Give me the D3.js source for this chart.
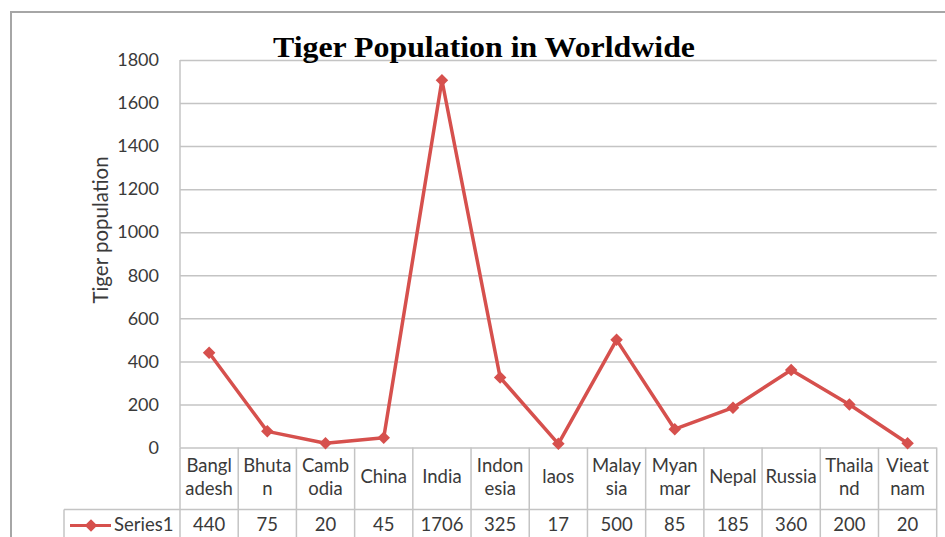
<!DOCTYPE html>
<html><head><meta charset="utf-8">
<script src="https://cdn.jsdelivr.net/npm/d3@7"></script>
<style>html,body{margin:0;padding:0;background:#fff;}svg{display:block;}</style>
</head><body>
<svg id="c" width="945" height="537"></svg>
<script>
const categories = ["Bangladesh","Bhutan","Cambodia","China","India","Indonesia","laos","Malaysia","Myanmar","Nepal","Russia","Thailand","Vieatnam"];
const categoryLines = [["Bangl","adesh"],["Bhuta","n"],["Camb","odia"],["China"],["India"],["Indon","esia"],["laos"],["Malay","sia"],["Myan","mar"],["Nepal"],["Russia"],["Thaila","nd"],["Vieat","nam"]];
const series1 = [440,75,20,45,1706,325,17,500,85,185,360,200,20];
const seriesName = "Series1";
const yTicks = [0,200,400,600,800,1000,1200,1400,1600,1800];
const title = "Tiger Population in Worldwide";
const yTitle = "Tiger population";

const svg = d3.select("#c");
const W = 945, H = 537;
const pLeft = 180, pRight = 936.7, pTop = 60, pBottom = 447.5;
const rowSplit = 509.5;
const color = "#d6504d";
const gridColor = "#c4c4c4";
const textColor = "#3a3a3a";
const font = "Lato, 'Open Sans', sans-serif";
const fs = 18.5;

const x = d3.scaleBand().domain(categories).range([pLeft, pRight]).padding(0);
const y = d3.scaleLinear().domain([0, 1800]).range([pBottom, pTop]);

// outer border
svg.append("path").attr("d", `M11,${H+5}V12H${W+5}`).attr("fill","none").attr("stroke","#a6a6a6").attr("stroke-width",2);

// gridlines
const grid = svg.append("g").attr("transform", `translate(${pLeft},0)`)
  .call(d3.axisLeft(y).tickValues(yTicks).tickSize(-(pRight-pLeft)).tickFormat(""));
grid.select(".domain").remove();
grid.selectAll("line").attr("stroke", gridColor).attr("stroke-width", 1.5);

// y axis labels
const ya = svg.append("g").attr("transform", `translate(${pLeft},0)`)
  .call(d3.axisLeft(y).tickValues(yTicks).tickSize(0).tickPadding(21).tickFormat(d3.format("d")));
ya.select(".domain").remove();
ya.selectAll("text").attr("font-family", font).attr("font-size", 18).attr("fill", textColor);

// left plot edge
svg.append("line").attr("x1",pLeft).attr("x2",pLeft).attr("y1",pTop).attr("y2",pBottom).attr("stroke",gridColor).attr("stroke-width",1.5);

// data table
const tbl = svg.append("g");
const cats = x.domain();
[...cats.map(c => x(c)), pRight].forEach(px => {
  tbl.append("line").attr("x1",px).attr("x2",px).attr("y1",pBottom).attr("y2",H+2).attr("stroke",gridColor).attr("stroke-width",1.5);
});
tbl.append("line").attr("x1",64).attr("x2",pRight).attr("y1",rowSplit).attr("y2",rowSplit).attr("stroke",gridColor).attr("stroke-width",1.5);
tbl.append("line").attr("x1",64).attr("x2",64).attr("y1",rowSplit).attr("y2",H+2).attr("stroke",gridColor).attr("stroke-width",1.5);

// category labels
cats.forEach((c, i) => {
  const lines = categoryLines[i];
  const cx = x(c) + x.bandwidth()/2;
  const t = tbl.append("text").attr("x", cx).attr("text-anchor","middle")
    .attr("font-family", font).attr("font-size", fs).attr("fill", textColor);
  if (lines.length === 1) {
    t.append("tspan").attr("x", cx).attr("y", 478.5).attr("dominant-baseline","middle").text(lines[0]);
  } else {
    lines.forEach((l, j) => t.append("tspan").attr("x", cx).attr("y", 467 + j*23).attr("dominant-baseline","middle").text(l));
  }
});
// values row
series1.forEach((v, i) => {
  tbl.append("text").attr("x", x(cats[i]) + x.bandwidth()/2).attr("y", 526.5)
    .attr("text-anchor","middle").attr("dominant-baseline","middle")
    .attr("font-family", font).attr("font-size", fs).attr("fill", textColor).text(v);
});
// legend key
const diamond = d3.symbol().type(d3.symbolDiamond2).size(100);
tbl.append("line").attr("x1",70).attr("x2",111).attr("y1",525.5).attr("y2",525.5).attr("stroke",color).attr("stroke-width",3.2);
tbl.append("path").attr("d", diamond).attr("transform","translate(91,525.5)").attr("fill",color);
tbl.append("text").attr("x",114).attr("y",526).attr("dominant-baseline","middle")
  .attr("font-family", font).attr("font-size", fs).attr("fill", textColor).text(seriesName);

// line
const line = d3.line().x((d,i) => x(cats[i]) + x.bandwidth()/2).y(d => y(d));
svg.append("path").datum(series1).attr("d", line).attr("fill","none").attr("stroke",color).attr("stroke-width",3.5).attr("stroke-linejoin","round");
svg.selectAll(".mk").data(series1).enter().append("path").attr("class","mk")
  .attr("d", diamond)
  .attr("transform", (d,i) => `translate(${x(cats[i]) + x.bandwidth()/2},${y(d)})`)
  .attr("fill", color);

// y title
svg.append("text").attr("transform","translate(108,230) rotate(-90)").attr("text-anchor","middle")
  .attr("font-family", font).attr("font-size", 20.5).attr("fill", textColor).text(yTitle);

// title
svg.append("text").attr("x", 273).attr("y", 57).attr("font-family","'Liberation Serif','Times New Roman',serif")
  .attr("font-weight","bold").attr("font-size", 30).attr("fill","#000")
  .attr("textLength", 422).attr("lengthAdjust","spacingAndGlyphs").text(title);
</script>
</body></html>
